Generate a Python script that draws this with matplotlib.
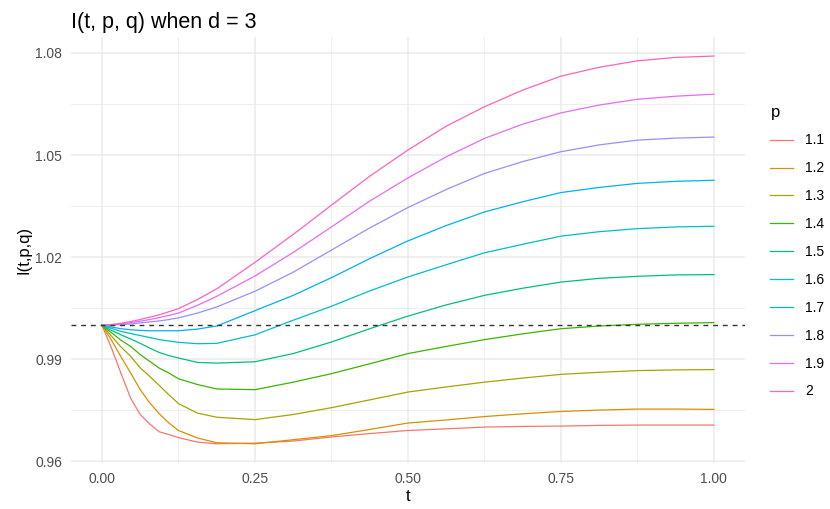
import matplotlib
matplotlib.use("Agg")
import matplotlib.pyplot as plt
from matplotlib.ticker import FixedLocator

plt.rcParams["font.family"] = ["Liberation Sans", "DejaVu Sans"]

# values
t_values = [0, 0.015625, 0.03125, 0.046875, 0.0625, 0.078125, 0.09375, 0.109375, 0.125,
            0.15625, 0.1875, 0.25, 0.3125, 0.375, 0.4375, 0.5, 0.5625, 0.625, 0.6875,
            0.75, 0.8125, 0.875, 0.9375, 1.0]

i_p11 = [1.0, 0.9933, 0.9858, 0.9786, 0.9738, 0.9710, 0.9687, 0.9679, 0.9670,
         0.9657, 0.9652, 0.9654, 0.9660, 0.9672, 0.9682, 0.9691, 0.9696, 0.9701, 0.9703,
         0.9704, 0.9706, 0.9707, 0.9707, 0.9707]
i_p12 = [1.0, 0.9956, 0.9907, 0.9860, 0.9811, 0.9772, 0.9740, 0.9713, 0.9691,
         0.9669, 0.9655, 0.9652, 0.9664, 0.9676, 0.9694, 0.9713, 0.9722, 0.9732, 0.9740,
         0.9747, 0.9751, 0.9754, 0.9754, 0.9753]
i_p13 = [1.0, 0.9968, 0.9936, 0.9909, 0.9875, 0.9850, 0.9823, 0.9796, 0.9770,
         0.9742, 0.9730, 0.9723, 0.9738, 0.9758, 0.9781, 0.9804, 0.9819, 0.9833, 0.9845,
         0.9856, 0.9862, 0.9867, 0.9869, 0.9870]
i_p14 = [1.0, 0.9978, 0.9956, 0.9938, 0.9914, 0.9894, 0.9874, 0.9860, 0.9843,
         0.9826, 0.9813, 0.9811, 0.9833, 0.9858, 0.9887, 0.9917, 0.9938, 0.9958, 0.9975,
         0.9990, 0.9998, 1.0003, 1.0006, 1.0008]
i_p15 = [1.0, 0.9985, 0.9972, 0.9960, 0.9947, 0.9933, 0.9920, 0.9911, 0.9904,
         0.9891, 0.9889, 0.9893, 0.9917, 0.9951, 0.9990, 1.0027, 1.0060, 1.0088, 1.0109,
         1.0127, 1.0138, 1.0144, 1.0148, 1.0149]
i_p16 = [1.0, 0.9991, 0.9982, 0.9976, 0.9970, 0.9964, 0.9958, 0.9954, 0.9950,
         0.9946, 0.9947, 0.9972, 1.0015, 1.0056, 1.0101, 1.0142, 1.0178, 1.0213, 1.0238,
         1.0262, 1.0275, 1.0284, 1.0289, 1.0291]
i_p17 = [1.0, 0.9995, 0.9990, 0.9987, 0.9985, 0.9984, 0.9984, 0.9984, 0.9984,
         0.9989, 0.9998, 1.0043, 1.0088, 1.0140, 1.0196, 1.0248, 1.0293, 1.0333, 1.0363,
         1.0390, 1.0405, 1.0417, 1.0423, 1.0426]
i_p18 = [1.0, 1.0001, 1.0002, 1.0004, 1.0007, 1.0010, 1.0013, 1.0017, 1.0022,
         1.0036, 1.0054, 1.0100, 1.0156, 1.0221, 1.0286, 1.0346, 1.0399, 1.0446, 1.0481,
         1.0510, 1.0530, 1.0544, 1.0550, 1.0553]
i_p19 = [1.0, 1.0002, 1.0004, 1.0008, 1.0012, 1.0017, 1.0023, 1.0029, 1.0036,
         1.0059, 1.0085, 1.0145, 1.0214, 1.0289, 1.0365, 1.0433, 1.0495, 1.0549, 1.0591,
         1.0624, 1.0647, 1.0664, 1.0673, 1.0679]
i_p20 = [1.0, 1.0002, 1.0006, 1.0011, 1.0017, 1.0024, 1.0031, 1.0040, 1.0049,
         1.0076, 1.0107, 1.0185, 1.0267, 1.0353, 1.0438, 1.0515, 1.0585, 1.0642, 1.0691,
         1.0732, 1.0758, 1.0777, 1.0787, 1.0791]

p_labels = ["1.1", "1.2", "1.3", "1.4", "1.5", "1.6", "1.7", "1.8", "1.9", "2"]
series = [i_p11, i_p12, i_p13, i_p14, i_p15, i_p16, i_p17, i_p18, i_p19, i_p20]
colors = ["#F8766D", "#D89000", "#A3A500", "#39B600", "#00BF7D",
          "#00BFC4", "#00B0F6", "#9590FF", "#E76BF3", "#FF62BC"]

x_ticks = [0.0, 0.25, 0.5, 0.75, 1.0]
x_minor = [0.125, 0.375, 0.625, 0.875]
y_ticks = [0.96, 0.99, 1.02, 1.05, 1.08]
y_minor = [0.975, 1.005, 1.035, 1.065]

fig = plt.figure(figsize=(8.3, 5.09), dpi=100)
ax = fig.add_axes([0.086, 0.090, 0.811, 0.838])

for vals, lab, col in zip(series, p_labels, colors):
    ax.plot(t_values, vals, color=col, linewidth=0.9, label=lab)

ax.axhline(1.0, color="#333333", linewidth=1.0, linestyle=(0, (3.5, 3.5)))

ax.set_xlim(-0.05, 1.05)
ax.set_ylim(0.9595, 1.0848)
ax.xaxis.set_major_locator(FixedLocator(x_ticks))
ax.xaxis.set_minor_locator(FixedLocator(x_minor))
ax.yaxis.set_major_locator(FixedLocator(y_ticks))
ax.yaxis.set_minor_locator(FixedLocator(y_minor))
ax.set_xticklabels([f"{v:.2f}" for v in x_ticks])
ax.set_yticklabels([f"{v:.2f}" for v in y_ticks])

ax.grid(True, which="major", color="#EBEBEB", linewidth=1.1)
ax.grid(True, which="minor", color="#EBEBEB", linewidth=0.6)
ax.set_axisbelow(True)
for s in ax.spines.values():
    s.set_visible(False)
ax.tick_params(which="both", length=0, labelsize=10, labelcolor="#4D4D4D", pad=6.5)

ax.set_xlabel("t", fontsize=12, labelpad=2)
ax.set_ylabel("I(t,p,q)", fontsize=12, labelpad=3)
ax.set_title("I(t, p, q) when d = 3", fontsize=15.5, loc="left", pad=6)

leg = ax.legend(title="p", loc="upper left", bbox_to_anchor=(1.02, 0.87),
                frameon=False, fontsize=10, title_fontsize=12,
                handlelength=1.6, handletextpad=0.9, labelspacing=1.0)
leg._legend_box.align = "left"

fig.savefig("out.png", dpi=100)
